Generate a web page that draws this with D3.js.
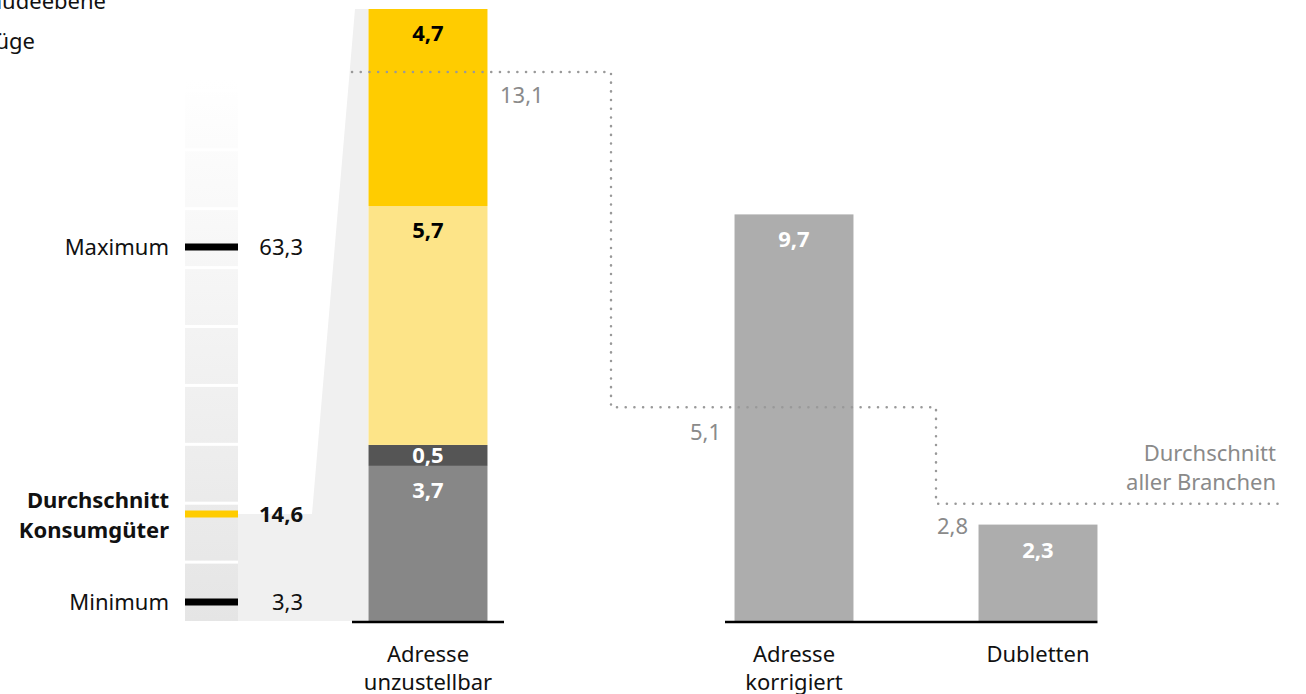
<!DOCTYPE html>
<html><head><meta charset="utf-8">
<script src="https://cdn.jsdelivr.net/npm/d3@7"></script>
<style>
html,body{margin:0;padding:0;background:#fff;}
svg{display:block;font-family:"Noto Sans",sans-serif;}
</style></head><body>
<svg id="c" width="1306" height="694"></svg>
<script>
// ---- data ----
const categories = ["Adresse unzustellbar", "gap1", "gap2", "Adresse korrigiert", "gap3", "Dubletten"];
const categoryLabels = [["Adresse","unzustellbar"], ["Adresse","korrigiert"], ["Dubletten"]];
const stackSegments = ["Rest", "Unbekannt", "Umgezogen", "Verstorben"];
const stackValues = [3.7, 0.5, 5.7, 4.7];
const stackColors = ["#878787", "#555555", "#fde488", "#ffcc00"];
const stackLabelColors = ["#fff", "#fff", "#000", "#000"];
const singleCategories = ["Adresse korrigiert", "Dubletten"];
const singleValues = [9.7, 2.3];
const branchAverage = [13.1, 5.1, 2.8];
const rangeNames = ["Minimum", "Durchschnitt Konsumgüter", "Maximum"];
const rangeValues = [3.3, 14.6, 63.3];
const titleLines = ["Anteil auf Gebäudeebene", "Umzüge"];

(function () {
const fmt = v => d3.format(".1f")(v).replace(".", ",");
const svg = d3.select("#c");
const FS = 22;

const y = d3.scaleLinear().domain([0, 14.6]).range([621, 9]);
const x = d3.scaleBand().domain(categories).range([367, 1099]).paddingInner(0.025).paddingOuter(0.0125);
const yR = d3.scaleLinear().domain([0, rangeValues[0], rangeValues[1], rangeValues[2], 75]).range([621, 602, 514, 247, 80]);

svg.append("text").attr("x", 106).attr("y", 9).attr("text-anchor", "end").attr("font-size", FS).attr("fill", "#111").text(titleLines[0]);
svg.append("text").attr("x", 35).attr("y", 49).attr("text-anchor", "end").attr("font-size", FS).attr("fill", "#111").text(titleLines[1]);

const defs = svg.append("defs");
const g = defs.append("linearGradient").attr("id", "gr").attr("x1", 0).attr("x2", 0).attr("y1", 0).attr("y2", 1);
g.append("stop").attr("offset", "0%").attr("stop-color", "#ffffff");
g.append("stop").attr("offset", "100%").attr("stop-color", "#e5e5e5");
const colX0 = 185, colX1 = 238;
svg.append("rect").attr("x", colX0).attr("y", yR(75)).attr("width", colX1 - colX0).attr("height", yR(0) - yR(75)).attr("fill", "url(#gr)");
d3.range(9).forEach(i => {
  const yy = 621 - (i + 1) * 58.9;
  svg.append("rect").attr("x", colX0).attr("y", yy - 1.5).attr("width", colX1 - colX0).attr("height", 3).attr("fill", "#fff");
});

const barL = x(categories[0]);
const barTop = y(d3.sum(stackValues));
svg.append("path").attr("fill", "#f0f0f0")
  .attr("d", d3.line()([[colX1, yR(rangeValues[1])], [312, yR(rangeValues[1])], [355, barTop], [barL, barTop], [barL, y(0)], [colX1, y(0)]]) + "Z");

rangeValues.forEach((v, i) => {
  svg.append("rect").attr("x", colX0).attr("y", yR(v) - 3.5).attr("width", colX1 - colX0).attr("height", 7)
    .attr("fill", i === 1 ? "#ffcc00" : "#000");
});
const lblR = 169;
svg.append("text").attr("x", lblR).attr("y", yR(rangeValues[2]) + 8).attr("text-anchor", "end").attr("font-size", FS).attr("fill", "#111").text(rangeNames[2]);
svg.append("text").attr("x", lblR).attr("y", yR(rangeValues[0]) + 8).attr("text-anchor", "end").attr("font-size", FS).attr("fill", "#111").text(rangeNames[0]);
const avgT = svg.append("text").attr("text-anchor", "end").attr("font-size", FS).attr("font-weight", "bold").attr("fill", "#111");
avgT.append("tspan").attr("x", lblR).attr("y", yR(rangeValues[1]) - 6).text("Durchschnitt");
avgT.append("tspan").attr("x", lblR).attr("y", yR(rangeValues[1]) + 24).text("Konsumgüter");
rangeValues.forEach((v, i) => {
  svg.append("text").attr("x", 303).attr("y", yR(v) + 8).attr("text-anchor", "end").attr("font-size", FS)
    .attr("font-weight", i === 1 ? "bold" : "normal").attr("fill", "#111").text(fmt(v));
});

let acc = 0;
const stacked = stackValues.map((v, i) => { const s = { v, y0: acc, y1: acc + v, i }; acc += v; return s; });
svg.selectAll(".seg").data(stacked).join("rect")
  .attr("x", barL).attr("width", x.bandwidth())
  .attr("y", d => y(d.y1)).attr("height", d => y(d.y0) - y(d.y1))
  .attr("fill", d => stackColors[d.i]);
svg.selectAll(".segl").data(stacked).join("text")
  .attr("x", barL + x.bandwidth() / 2)
  .attr("y", d => d.i === 1 ? (y(d.y1) + y(d.y0)) / 2 + 8 : y(d.y1) + 32)
  .attr("text-anchor", "middle").attr("font-size", FS).attr("font-weight", "bold")
  .attr("fill", d => stackLabelColors[d.i]).text(d => fmt(d.v));

singleCategories.forEach((c, i) => {
  svg.append("rect").attr("x", x(c)).attr("width", x.bandwidth()).attr("y", y(singleValues[i])).attr("height", y(0) - y(singleValues[i])).attr("fill", "#adadad");
  svg.append("text").attr("x", x(c) + x.bandwidth() / 2).attr("y", y(singleValues[i]) + 33).attr("text-anchor", "middle")
    .attr("font-size", FS).attr("font-weight", "bold").attr("fill", "#fff").text(fmt(singleValues[i]));
});

svg.append("line").attr("x1", 352).attr("x2", 504).attr("y1", y(0) + 1).attr("y2", y(0) + 1).attr("stroke", "#000").attr("stroke-width", 2.5);
svg.append("line").attr("x1", 725).attr("x2", x("Dubletten") + x.bandwidth()).attr("y1", y(0) + 1).attr("y2", y(0) + 1).attr("stroke", "#000").attr("stroke-width", 2.5);

[categories[0], categories[3], categories[5]].forEach((c, i) => {
  const t = svg.append("text").attr("text-anchor", "middle").attr("font-size", FS).attr("fill", "#111");
  categoryLabels[i].forEach((l, j) => t.append("tspan").attr("x", x(c) + x.bandwidth() / 2).attr("y", 662 + j * 28).text(l));
});

const xs = [352, (x(categories[0]) + x.bandwidth() + x(categories[3])) / 2, 936, 1280];
const pts = [];
branchAverage.forEach((v, i) => { pts.push([xs[i], y(v)]); pts.push([xs[i + 1], y(v)]); });
svg.append("path").attr("d", d3.line()(pts)).attr("fill", "none").attr("stroke", "#999").attr("stroke-width", 2.5)
  .attr("stroke-dasharray", "0.1 8.6").attr("stroke-linecap", "round");
const grey = "#8a8a8a";
svg.append("text").attr("x", 500).attr("y", y(branchAverage[0]) + 31).attr("font-size", FS).attr("fill", grey).text(fmt(branchAverage[0]));
svg.append("text").attr("x", 721).attr("y", y(branchAverage[1]) + 33).attr("text-anchor", "end").attr("font-size", FS).attr("fill", grey).text(fmt(branchAverage[1]));
svg.append("text").attr("x", 968).attr("y", y(branchAverage[2]) + 30).attr("text-anchor", "end").attr("font-size", FS).attr("fill", grey).text(fmt(branchAverage[2]));
const dt = svg.append("text").attr("text-anchor", "end").attr("font-size", FS).attr("fill", grey);
dt.append("tspan").attr("x", 1276).attr("y", 461).text("Durchschnitt");
dt.append("tspan").attr("x", 1276).attr("y", 490).text("aller Branchen");
})();
</script>
</body></html>
